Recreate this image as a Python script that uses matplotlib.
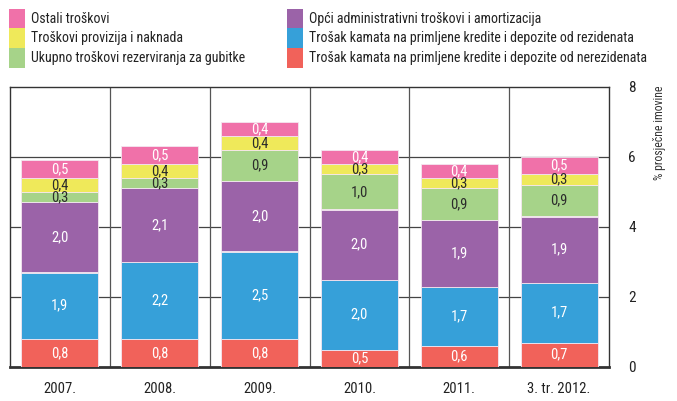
import matplotlib
matplotlib.use("Agg")
import matplotlib.pyplot as plt
from matplotlib.patches import Rectangle
import numpy as np

plt.rcParams["font.family"] = ["Roboto Condensed", "DejaVu Sans"]

categories = ["2007.", "2008.", "2009.", "2010.", "2011.", "3. tr. 2012."]

# stacked from the bottom up
nerezidenti = [0.8, 0.8, 0.8, 0.5, 0.6, 0.7]
rezidenti = [1.9, 2.2, 2.5, 2.0, 1.7, 1.7]
administrativni = [2.0, 2.1, 2.0, 2.0, 1.9, 1.9]
rezerviranja = [0.3, 0.3, 0.9, 1.0, 0.9, 0.9]
provizije = [0.4, 0.4, 0.4, 0.3, 0.3, 0.3]
ostali = [0.5, 0.5, 0.4, 0.4, 0.4, 0.5]

series = [
    ("Trošak kamata na primljene kredite i depozite od nerezidenata", nerezidenti, "#f1625a", "white"),
    ("Trošak kamata na primljene kredite i depozite od rezidenata", rezidenti, "#36a0d9", "white"),
    ("Opći administrativni troškovi i amortizacija", administrativni, "#9b63a8", "white"),
    ("Ukupno troškovi rezerviranja za gubitke", rezerviranja, "#a6d389", "#2b2b2b"),
    ("Troškovi provizija i naknada", provizije, "#efe95a", "#2b2b2b"),
    ("Ostali troškovi", ostali, "#f071a9", "white"),
]

fig = plt.figure(figsize=(6.77, 4.01), dpi=100)
ax = fig.add_axes([10 / 677, 1 - 367 / 401, 599 / 677, 280 / 401])

x = np.arange(len(categories))
bottom = np.zeros(len(categories))
for label, values, color, text_color in series:
    values = np.array(values)
    ax.bar(x, values, width=0.77, bottom=bottom, color=color,
           edgecolor="#f4e6f0", linewidth=0.6, zorder=3)
    for xi, b, v in zip(x, bottom, values):
        ax.text(xi, b + v / 2, f"{v:.1f}".replace(".", ","), ha="center", va="center",
                color=text_color, fontsize=10.5, zorder=4)
    bottom += values

ax.set_xlim(-0.5, len(categories) - 0.5)
ax.set_ylim(0, 8)

# gridlines and category separators
for y in [2, 4, 6]:
    ax.axhline(y, color="#444444", linewidth=0.9, zorder=1)
for xs in x[:-1] + 0.5:
    ax.axvline(xs, color="#555555", linewidth=0.9, zorder=1)

for side in ["left", "right", "top"]:
    ax.spines[side].set_linewidth(1.0)
    ax.spines[side].set_color("#333333")
ax.spines["bottom"].set_linewidth(2.0)
ax.spines["bottom"].set_color("#333333")

ax.set_xticks(x)
ax.set_xticklabels(categories, fontsize=10.5, color="#222222")
ax.tick_params(axis="x", length=0, pad=11)
ax.yaxis.tick_right()
ax.set_yticks([0, 2, 4, 6, 8])
ax.tick_params(axis="y", length=0, pad=14, labelsize=11, labelcolor="#222222")

fig.text(659 / 677, 1 - 86 / 401, "% prosječne imovine", rotation=90,
         ha="center", va="top", fontsize=8.5, color="#333333")

# legend in two columns
legend_cols = [
    [series[5], series[4], series[3]],
    [series[2], series[1], series[0]],
]
col_x = [9, 287]
row_top = 9
row_h = 19.5
for cx, col in zip(col_x, legend_cols):
    for i, (label, _, color, _) in enumerate(col):
        top = row_top + i * row_h
        fig.add_artist(Rectangle((cx / 677, 1 - (top + row_h) / 401), 16 / 677, row_h / 401,
                                 transform=fig.transFigure, facecolor=color, edgecolor="none"))
        fig.text((cx + 22) / 677, 1 - (top + row_h / 2) / 401, label,
                 ha="left", va="center", fontsize=10, color="#222222")

fig.savefig("out.png", dpi=100)
